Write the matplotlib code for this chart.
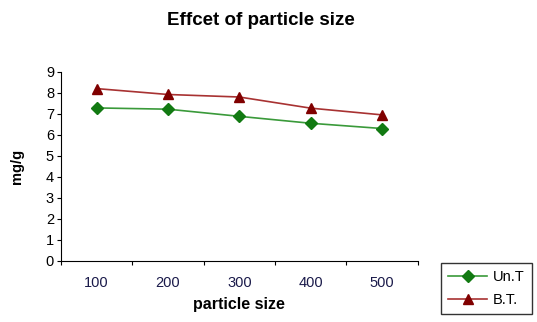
import matplotlib
matplotlib.use("Agg")
import matplotlib.pyplot as plt

plt.rcParams["font.family"] = ["Liberation Sans", "DejaVu Sans"]

# data
sizes = ["100", "200", "300", "400", "500"]
un_t = [7.28, 7.22, 6.88, 6.55, 6.3]
b_t = [8.2, 7.92, 7.8, 7.27, 6.95]

fig = plt.figure(figsize=(5.37, 3.22), dpi=100)
ax = fig.add_axes([0.1136, 0.19, 0.664, 0.587])

x = range(len(sizes))
ax.plot(x, un_t, color="#3a9a3a", lw=1.2, marker="D", ms=6,
        mfc="#127a12", mec="#127a12", label="Un.T")
ax.plot(x, b_t, color="#a83232", lw=1.2, marker="^", ms=7,
        mfc="#800000", mec="#800000", label="B.T.")

ax.set_xlim(-0.5, len(sizes) - 0.5)
ax.set_ylim(0, 9)
ax.set_yticks(range(10))
ax.set_xticks([i + 0.5 for i in range(-1, len(sizes))])
ax.set_xticklabels([])
ax.set_xticks(list(x), minor=True)
ax.set_xticklabels(sizes, minor=True)
ax.tick_params(axis="x", which="major", length=3, direction="out")
ax.tick_params(axis="x", which="minor", length=0, pad=11, labelsize=10.5,
               labelcolor="#1a1a4a")
ax.tick_params(axis="y", length=3, direction="out", labelsize=10.5, pad=2)

for s in ("top", "right"):
    ax.spines[s].set_visible(False)

ax.set_xlabel("particle size", fontsize=11.5, fontweight="bold", labelpad=5)
ax.set_ylabel("mg/g", fontsize=10.5, fontweight="bold", labelpad=16)
fig.text(0.485, 0.937, "Effcet of particle size", ha="center", va="center",
         fontsize=13.5, fontweight="bold")

leg = fig.legend(loc="lower right", bbox_to_anchor=(0.991, 0.025),
                 borderaxespad=0, frameon=True, fancybox=False,
                 edgecolor="black", fontsize=10.5, handlelength=2.7,
                 borderpad=0.5, labelspacing=0.6, handletextpad=0.4)
leg.get_frame().set_linewidth(1)

fig.savefig("out.png", dpi=100)
